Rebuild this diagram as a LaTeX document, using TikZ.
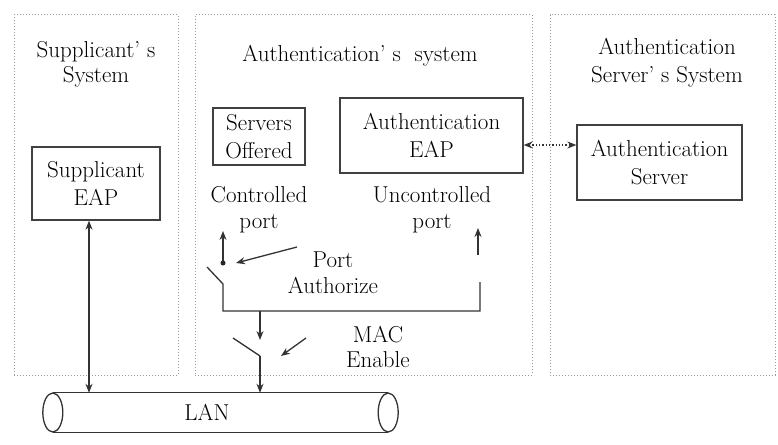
\documentclass[tikz,border=0pt]{standalone}
\usetikzlibrary{arrows.meta,calc}
\begin{document}
\begin{tikzpicture}[x=1pt,y=-1pt,
  frame/.style={draw=black!40, dotted, line width=1pt, inner sep=0pt},
  box/.style={draw=black!75, line width=1.3pt, inner sep=0pt, align=center,
    font=\fontsize{23}{28}\selectfont},
  lbl/.style={inner sep=0pt, anchor=base, font=\fontsize{23}{28}\selectfont},
  ln/.style={draw=black!80, line width=1.3pt},
  arr/.style={ln, -{Stealth[length=9pt,width=7pt]}},
  darr/.style={ln, {Stealth[length=9pt,width=7pt]}-{Stealth[length=9pt,width=7pt]}}
]
\useasboundingbox (0,0) rectangle (778,444);
\fill[white] (0,0) rectangle (778,444);

% system frames
\node[frame, minimum width=164pt, minimum height=360pt] (sys1) at (96,195) {};
\node[frame, minimum width=337pt, minimum height=360pt] (sys2) at (363.5,195) {};
\node[frame, minimum width=225pt, minimum height=360pt] (sys3) at (662.5,195) {};

% titles
\node[lbl] (t1a) at (96,58) {Supplicant' s};
\node[lbl] (t1b) at (96,82) {System};
\node[lbl] (t2) at (360,62) {Authentication' s\ \ system};
\node[lbl] (t3a) at (667,55) {Authentication};
\node[lbl] (t3b) at (667,82) {Server' s\ System};

% boxes
\node[box, minimum width=128pt, minimum height=73pt] (supp) at (96,183.5) {Supplicant\\EAP};
\node[box, minimum width=92pt, minimum height=57pt] (srv) at (259,136.5) {Servers\\Offered};
\node[box, minimum width=183pt, minimum height=75pt] (aeap) at (431.5,135.5) {Authentication\\EAP};
\node[box, minimum width=165pt, minimum height=75pt] (aserv) at (659.5,162.5) {Authentication\\Server};

% port labels
\node[lbl] (cp1) at (259,202) {Controlled};
\node[lbl] (cp2) at (259,228) {port};
\node[lbl] (up1) at (432,202) {Uncontrolled};
\node[lbl] (up2) at (432,228) {port};
\node[lbl] (pa1) at (333,267) {Port};
\node[lbl] (pa2) at (333,293) {Authorize};
\node[lbl] (me1) at (378,342) {MAC};
\node[lbl] (me2) at (378,367) {Enable};

% LAN cylinder
\node[inner sep=0pt, minimum width=335pt, minimum height=39pt] (lan) at (220.5,412.5) {};
\draw[ln] (lan.north west) -- (lan.north east);
\draw[ln] (lan.south west) -- (lan.south east);
\draw[ln] (lan.west) ellipse [x radius=10pt, y radius=19.5pt];
\draw[ln] (lan.east) ellipse [x radius=10pt, y radius=19.5pt];
\node[lbl] (lant) at (207,420) {LAN};

% supplicant <-> LAN
\coordinate (sa) at ([xshift=-7pt]supp.south);
\draw[darr] (sa) -- (sa |- lan.north);

% auth EAP <-> auth server (dotted)
\coordinate (ea) at ([yshift=-9.5pt]aeap.east);
\draw[darr, dotted, line width=1.6pt] (ea) -- (ea -| aserv.west);

% controlled port
\coordinate (cpdot) at (223,263);
\coordinate (cptop) at (223,231);
\draw[arr] (cpdot) -- (cptop);
\fill[black!85] (cpdot) circle (2.5pt);
\coordinate (pt) at (297,247);
\coordinate (ptip) at (236,263);
\draw[arr] (pt) -- (ptip);

% switch 1 and bus
\coordinate (sw1a) at (207,267);
\coordinate (sw1b) at (223,284);
\coordinate (bl) at (223,311);
\coordinate (br) at (480,311);
\coordinate (brt) at (480,282);
\draw[ln] (sw1a) -- (sw1b) -- (bl) -- (br) -- (brt);

% uncontrolled port arrow
\coordinate (uptail) at (478,255);
\coordinate (uptip) at (478,228);
\draw[arr] (uptail) -- (uptip);

% branch to MAC switch
\coordinate (b1) at (260,311);
\coordinate (b1tip) at (260,340);
\draw[arr] (b1) -- (b1tip);
\coordinate (sw2a) at (233,338);
\coordinate (sw2b) at (260,356);
\draw[ln] (sw2a) -- (sw2b);
\draw[arr] (sw2b) -- (sw2b |- lan.north);
\coordinate (mt) at (306,338);
\coordinate (mtip) at (281,356);
\draw[arr] (mt) -- (mtip);
\end{tikzpicture}
\end{document}
